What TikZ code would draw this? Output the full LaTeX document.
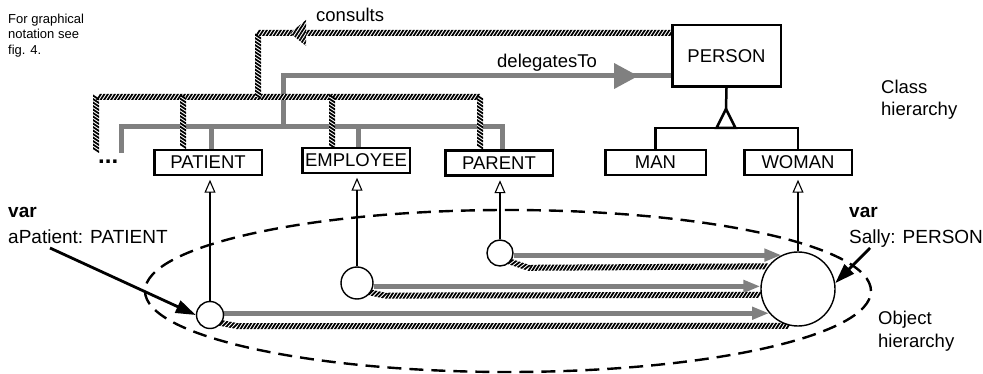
\documentclass[tikz,border=0pt]{standalone}
\usepackage{fontspec}
\setmainfont{Liberation Sans}
\usetikzlibrary{arrows.meta,decorations.markings,patterns.meta,backgrounds}

\definecolor{delegray}{RGB}{128,128,128}

\tikzset{
  cls/.style={draw, line width=2.5pt, fill=white, inner sep=0pt, minimum height=25pt,
              font=\fontsize{18.5}{22}\selectfont},
  obj/.style={draw, circle, line width=1.4pt, fill=white, inner sep=0pt},
  deleg/.style={draw=delegray, line width=5pt},
  delegarrow/.style={deleg, -{Triangle[length=17pt,width=12pt]}},
  hatchline/.style={draw=white, line width=6pt, postaction={decorate},
    decoration={markings, mark=between positions 0 and 1 step 3.5pt with
      {\fill[black] (-3pt,-3pt) -- (-0.9pt,-3pt) -- (3pt,3pt) -- (0.9pt,3pt) -- cycle;}}},
  hatchfill/.style={pattern={Lines[angle=57,distance=2.9pt,line width=1.75pt]}},
  midtri/.style={postaction={decorate},
    decoration={markings, mark=at position 0.925 with
      {\fill[delegray] (0pt,0pt) -- (-24pt,13pt) -- (-24pt,-13pt) -- cycle;}}},
  inh/.style={draw, line width=2.5pt},
  inst/.style={line width=1.1pt, shorten >=3.5pt,
    -{Triangle[open,length=13pt,width=11pt,line width=1.1pt]}},
  pointer/.style={line width=2.8pt, -{Triangle[length=20pt,width=13pt]}},
  objarea/.style={line width=2.4pt, dash pattern=on 14pt off 8pt},
  txt/.style={inner sep=0pt, align=left, anchor=north west},
  lbl/.style={inner sep=0pt, anchor=base west, font=\fontsize{18.5}{22}\selectfont},
}

\begin{document}
\begin{tikzpicture}[x=1pt,y=-1pt]
\useasboundingbox (0,0) rectangle (983,374);

% ---------- class boxes ----------
\node[cls, minimum width=108.5pt, minimum height=61.5pt] (PERSON) at (726.5,56) {PERSON};
\node[cls, minimum width=100.5pt] (MAN) at (655.5,162.5) {MAN};
\node[cls, minimum width=107.5pt] (WOMAN) at (798,162.5) {WOMAN};
\node[cls, minimum width=107.5pt] (PATIENT) at (208,162.5) {PATIENT};
\node[cls, minimum width=107.5pt] (EMPLOYEE) at (356,160.5) {EMPLOYEE};
\node[cls, minimum width=107.5pt] (PARENT) at (499,163) {PARENT};

% ---------- object instances ----------
\node[obj, minimum size=27pt] (aP) at (210,315) {};
\node[obj, minimum size=32pt] (oE) at (357,283) {};
\node[obj, minimum size=26pt] (oP) at (500,253) {};
\node[obj, minimum size=74pt] (sally) at (798,289) {};

% ---------- junction points ----------
\coordinate (gFree) at (121,153);
\coordinate (gBusR) at (502,127);
\coordinate (gP) at (211,127);
\coordinate (gE) at (358,127);
\coordinate (gUp) at (283,127);
\coordinate (dTo) at (PERSON.west |- 0,76);

\coordinate (cFree) at (96,150);
\coordinate (cBusR) at (480,97);
\coordinate (cP) at (183,97);
\coordinate (cE) at (332,97);
\coordinate (cUp) at (258,97);
\coordinate (cFrom) at (PERSON.west |- 0,33);
\coordinate (cTip) at (290,33);

\coordinate (inhApex) at (726,109);
\coordinate (inhBase) at (726,128);

\coordinate (aPtail) at (50,248);
\coordinate (sTail) at (870,248);

\begin{pgfonlayer}{background}
  % object hierarchy region
  \draw[objarea] (508,291) ellipse [x radius=363pt, y radius=81pt];

  % delegatesTo (class level)
  \draw[deleg] (gFree) |- (gBusR) -- (gBusR |- PARENT.north);
  \draw[deleg] (gP) -- (gP |- PATIENT.north);
  \draw[deleg] (gE) -- (gE |- EMPLOYEE.north);
  \draw[deleg, midtri] (gUp) |- (dTo);

  % consults (class level)
  \draw[hatchline] (cFree) |- (cBusR) -- (cBusR |- PARENT.north);
  \draw[hatchline] (cP) -- (cP |- PATIENT.north);
  \draw[hatchline] (cE) -- (cE |- EMPLOYEE.north);
  \draw[hatchline] (cFrom) -| (cUp);
  \fill[white] (cTip) -- ++(16,-13) -- ++(0,26) -- cycle;
  \fill[hatchfill] (cTip) -- ++(16,-13) -- ++(0,26) -- cycle;

  % delegation between objects
  \draw[delegarrow] (oP.east |- sally.116.9) -- (sally.116.9);
  \draw[delegarrow] (oE.east |- sally.176.9) -- (sally.176.9);
  \draw[delegarrow] (aP.east |- sally.220.4) -- (sally.220.4);
  \draw[hatchline] (oP.-40) -- ++(18,6) -- (sally.143.5);
  \draw[hatchline] (oE.-35) -- ++(14,3) -- (sally.189.3);
  \draw[hatchline] (aP.-35) -- ++(16,3) -- (sally.258);

  % specialisation of PERSON
  \draw[inh] (PERSON.south) -- (inhApex);
  \draw[inh] (MAN.north) |- (inhBase) -| (WOMAN.north);
\end{pgfonlayer}

\draw[inh, fill=white] (inhApex) -- ([xshift=-9.5pt]inhBase) -- ([xshift=9.5pt]inhBase) -- cycle;

% instance-of links
\draw[inst] (aP.north) -- (aP.north |- PATIENT.south);
\draw[inst] (oE.north) -- (oE.north |- EMPLOYEE.south);
\draw[inst] (oP.north) -- (oP.north |- PARENT.south);
\draw[inst] (sally.north) -- (sally.north |- WOMAN.south);

% variable pointers
\draw[pointer] (aPtail) -- (aP.west);
\draw[pointer] (sTail) -- (sally.9);

% ---------- labels ----------
\node[txt, font=\fontsize{13}{15.5}\selectfont] (note) at (8,13.6) {For graphical\\notation see\\fig. 4.};
\node[lbl] (consultsLbl) at (316,22) {consults};
\node[lbl] (delegLbl) at (497,68) {delegatesTo};
\node[txt, font=\fontsize{18.5}{22}\selectfont] (classH) at (881,79.7) {Class\\hierarchy};
\node[txt, font=\fontsize{18.5}{23}\selectfont] (objH) at (878,310.4) {Object\\hierarchy};
\node[txt, font=\fontsize{19}{26}\selectfont] (aPvar) at (8,207.2) {\textbf{var}\\aPatient: PATIENT};
\node[txt, font=\fontsize{19}{26}\selectfont] (sallyVar) at (849,207.2) {\textbf{var}\\Sally: PERSON};
\node[inner sep=0pt, anchor=base west, font=\fontsize{24}{24}\selectfont\bfseries] (more) at (98,163.5) {...};
\end{tikzpicture}
\end{document}
